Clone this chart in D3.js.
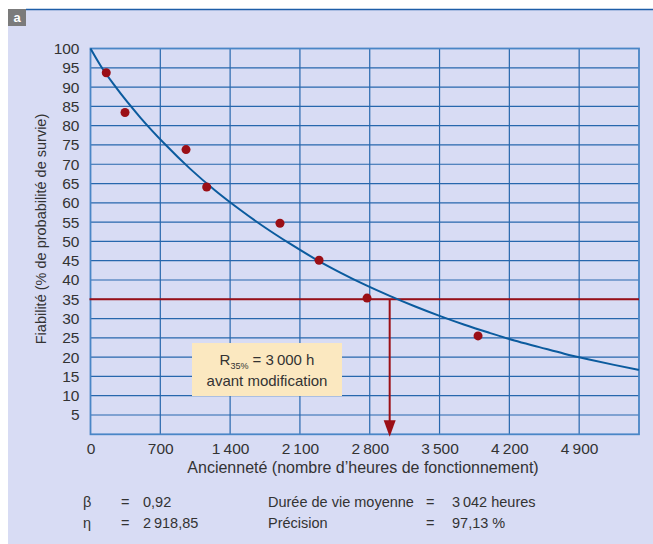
<!DOCTYPE html>
<html>
<head>
<meta charset="utf-8">
<style>
*{margin:0;padding:0;}
body{background:#fff;}
svg{display:block;}
text{font-family:"Liberation Sans",Arial,sans-serif;fill:#333;}
</style>
</head>
<body>
<script src="https://d3js.org/d3.v7.min.js"></script>
<script>
// courbe de fiabilité
var curveT = [0,100,250,500,750,1000,1250,1500,1750,2000,2250,2500,2750,3000,3250,3500,3750,4000,4250,4500,4750,5000,5250,5500];
var curveR = [100,95.6,90.1,82.1,75.1,68.8,63.2,58.2,53.6,49.4,45.5,42.0,38.8,35.9,33.2,30.7,28.4,26.3,24.3,22.6,20.9,19.4,18.0,16.7];
// points mesurés
var pointT = [158,346,958,1165,1900,2292,2773,3886];
var pointR = [93.7,83.4,73.8,64.1,54.7,45.1,35.3,25.5];
var xTicks = [0,700,1400,2100,2800,3500,4200,4900];
var xTickLabels = ["0","700","1\u2009400","2\u2009100","2\u2009800","3\u2009500","4\u2009200","4\u2009900"];
var yTicks = [5,10,15,20,25,30,35,40,45,50,55,60,65,70,75,80,85,90,95,100];
var seuil = 35, tSeuil = 3000;

var width = 653, height = 544;
var svg = d3.select("body").append("svg").attr("width",width).attr("height",height);

// fond
svg.append("rect").attr("x",8).attr("y",9).attr("width",width-8).attr("height",height-9).attr("fill","#d8dcf4");
svg.append("line").attr("x1",26).attr("x2",width).attr("y1",9.5).attr("y2",9.5).attr("stroke","#1d5ea8").attr("stroke-width",1.5);
svg.append("rect").attr("x",8).attr("y",9).attr("width",18).attr("height",17).attr("fill","#7b7b7b");
svg.append("text").attr("x",17).attr("y",22).attr("text-anchor","middle").style("fill","#fff").style("font-weight","bold").style("font-size","13px").text("a");

var x = d3.scaleLinear().domain([0,5500]).range([90.5,639]);
var y = d3.scaleLinear().domain([0,100]).range([434.3,48.5]);

var grid = svg.append("g").attr("stroke","#2767ad").attr("stroke-width",1.2);
grid.selectAll(".h").data(yTicks).join("line")
  .attr("x1",x(0)).attr("x2",x(5500)).attr("y1",d=>y(d)).attr("y2",d=>y(d));
grid.selectAll(".v").data(xTicks.slice(1)).join("line")
  .attr("y1",y(0)).attr("y2",y(100)).attr("x1",d=>x(d)).attr("x2",d=>x(d));
svg.append("rect").attr("x",x(0)).attr("y",y(100)).attr("width",x(5500)-x(0)).attr("height",y(0)-y(100))
  .attr("fill","none").attr("stroke","#4a86c6").attr("stroke-width",1.8);

// axes
var yAxis = svg.append("g").attr("transform",`translate(${x(0)},0)`)
  .call(d3.axisLeft(y).tickValues(yTicks).tickSize(0).tickPadding(11));
var xAxis = svg.append("g").attr("transform",`translate(0,${y(0)})`)
  .call(d3.axisBottom(x).tickValues(xTicks).tickFormat((d,i)=>xTickLabels[i]).tickSize(0).tickPadding(9));
[yAxis,xAxis].forEach(a=>{
  a.select(".domain").remove();
  a.selectAll("text").style("font-size","15.5px").style("fill","#333").attr("font-family",null);
});

// ligne seuil et flèche
var red = "#9b0f16";
svg.append("line").attr("x1",x(0)-1).attr("x2",x(5500)).attr("y1",y(seuil)).attr("y2",y(seuil))
  .attr("stroke",red).attr("stroke-width",2);
svg.append("line").attr("x1",x(tSeuil)).attr("x2",x(tSeuil)).attr("y1",y(seuil)).attr("y2",y(0)-12)
  .attr("stroke",red).attr("stroke-width",2);
svg.append("path")
  .attr("d",`M${x(tSeuil)-6},${y(0)-14} L${x(tSeuil)+6},${y(0)-14} L${x(tSeuil)},${y(0)+2.5} Z`)
  .attr("fill",red);

// courbe
var line = d3.line().curve(d3.curveMonotoneX).x((d,i)=>x(curveT[i])).y(d=>y(d));
svg.append("path").datum(curveR).attr("d",line).attr("fill","none")
  .attr("stroke","#0b5b9e").attr("stroke-width",2);

svg.append("g").attr("fill",red).selectAll("circle").data(pointR).join("circle")
  .attr("cx",(d,i)=>x(pointT[i])).attr("cy",d=>y(d)).attr("r",4.5);

// encadré
svg.append("rect").attr("x",192).attr("y",343).attr("width",150).attr("height",53).attr("fill","#fbe8c0");
var t1 = svg.append("text").attr("x",267).attr("y",365).attr("text-anchor","middle").style("font-size","15px");
t1.append("tspan").text("R");
t1.append("tspan").attr("dy",4).style("font-size","9px").text("35%");
t1.append("tspan").attr("dy",-4).text(" = 3\u2009000 h");
svg.append("text").attr("x",267).attr("y",386).attr("text-anchor","middle").style("font-size","15px").text("avant modification");

// titres
svg.append("text").attr("x",363).attr("y",473).attr("text-anchor","middle").style("font-size","16px")
  .text("Ancienneté (nombre d\u2019heures de fonctionnement)");
svg.append("text").attr("transform","translate(46,229) rotate(-90)").attr("text-anchor","middle").style("font-size","14.5px")
  .text("Fiabilité (% de probabilité de survie)");

// paramètres
var params = [
  {y:507, c:[["β",83],["=",121],["0,92",143],["Durée de vie moyenne",268],["=",426],["3\u2009042 heures",452]]},
  {y:528, c:[["η",83],["=",121],["2\u2009918,85",143],["Précision",268],["=",426],["97,13 %",452]]}
];
params.forEach(r=>{
  r.c.forEach(c=>{
    svg.append("text").attr("x",c[1]).attr("y",r.y).style("font-size","14.5px").text(c[0]);
  });
});
</script>
</body>
</html>
